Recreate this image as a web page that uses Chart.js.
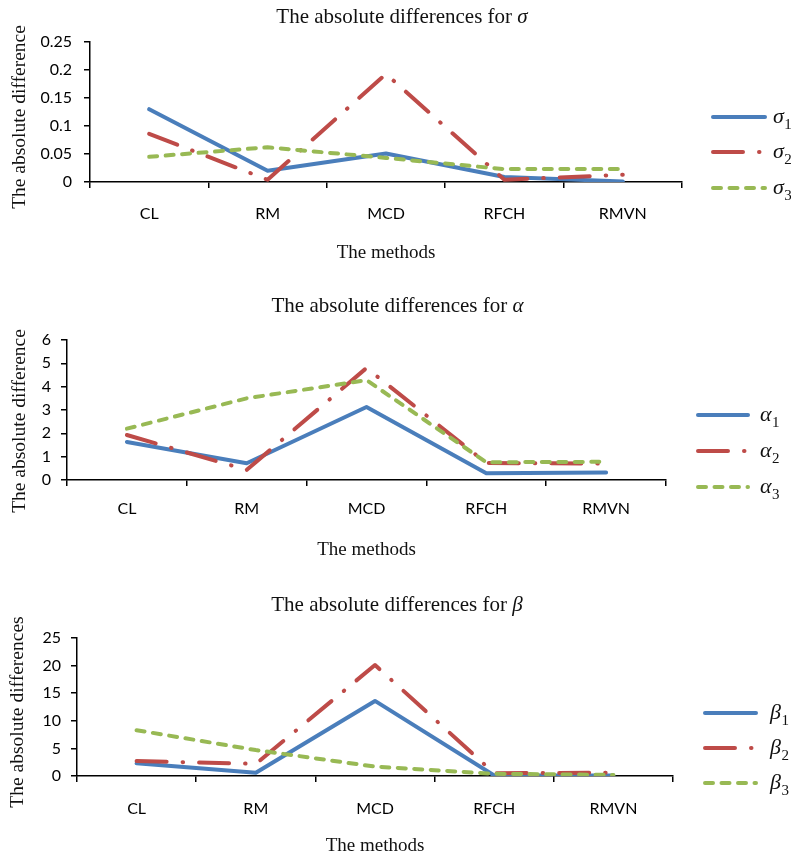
<!DOCTYPE html>
<html><head><meta charset="utf-8">
<script src="https://cdn.jsdelivr.net/npm/chart.js@4.4.1/dist/chart.umd.min.js"></script>
<style>
html,body{margin:0;padding:0;background:#fff;}
#wrap{position:relative;width:791px;height:853px;overflow:hidden;background:#fff;}
#wrap canvas{position:absolute;left:0;}
</style></head><body>
<div id="wrap">
<canvas id="c1" width="791" height="270" style="top:0px;width:791px;height:270px"></canvas>
<canvas id="c2" width="791" height="270" style="top:290px;width:791px;height:270px"></canvas>
<canvas id="c3" width="791" height="268" style="top:585px;width:791px;height:268px"></canvas>
</div>
<script>
// ---------- data ----------
const categories = ['CL', 'RM', 'MCD', 'RFCH', 'RMVN'];

const sigma1 = [0.130, 0.020, 0.051, 0.009, 0.001];
const sigma2 = [0.086, 0.004, 0.193, 0.004, 0.013];
const sigma3 = [0.045, 0.062, 0.043, 0.023, 0.023];
const sigmaTicks = [0, 0.05, 0.1, 0.15, 0.2, 0.25];

const alpha1 = [1.63, 0.72, 3.13, 0.29, 0.32];
const alpha2 = [1.93, 0.43, 4.80, 0.73, 0.70];
const alpha3 = [2.20, 3.50, 4.28, 0.76, 0.78];
const alphaTicks = [0, 1, 2, 3, 4, 5, 6];

const beta1 = [2.3, 0.6, 13.6, 0.1, 0.1];
const beta2 = [2.7, 2.2, 20.1, 0.5, 0.6];
const beta3 = [8.3, 4.7, 1.7, 0.4, 0.2];
const betaTicks = [0, 5, 10, 15, 20, 25];

const xTitle = 'The methods';
const titlePrefix = 'The absolute differences for ';

// ---------- styles ----------
const BLUE = '#4A7EBB', RED = '#BE4B48', GREEN = '#98B954';
const SERIF = '"Liberation Serif", "Times New Roman", serif';
const SANS = 'Lato, "Open Sans", sans-serif';

function seriesStyle(i) {
  const base = {pointRadius: 0, pointHoverRadius: 0, tension: 0, fill: false,
    borderWidth: 4, borderJoinStyle: 'round', borderCapStyle: 'round'};
  if (i === 0) return Object.assign(base, {borderColor: BLUE, order: 3});
  if (i === 1) return Object.assign(base, {borderColor: RED, borderDash: [30, 16, 0.5, 16], order: 2});
  return Object.assign(base, {borderColor: GREEN, borderDash: [8, 8.5], order: 1});
}

const overlay = {
  id: 'overlay',
  afterDraw(chart, args, o) {
    const ctx = chart.ctx;
    ctx.save();
    ctx.fillStyle = '#111';
    ctx.textAlign = 'left';
    ctx.textBaseline = 'alphabetic';
    // title
    const f1 = '21px ' + SERIF, f2 = 'italic 21px ' + SERIF;
    ctx.font = f1; const w1 = ctx.measureText(titlePrefix).width;
    ctx.font = f2; const w2 = ctx.measureText(o.greek).width;
    const tx = o.titleX - (w1 + w2) / 2;
    ctx.font = f1; ctx.fillText(titlePrefix, tx, o.titleY);
    ctx.font = f2; ctx.fillText(o.greek, tx + w1, o.titleY);
    // y title
    ctx.save();
    ctx.translate(o.yTitleX, o.yTitleY);
    ctx.rotate(-Math.PI / 2);
    ctx.font = '19.5px ' + SERIF;
    ctx.textAlign = 'center';
    ctx.fillText(o.yTitle, 0, 0);
    ctx.restore();
    // legend
    chart.data.datasets.forEach((ds, i) => {
      const y = o.legendRows[i];
      ctx.save();
      ctx.strokeStyle = ds.borderColor;
      ctx.lineWidth = ds.borderWidth;
      ctx.lineCap = 'round';
      ctx.setLineDash(ds.borderDash || []);
      ctx.beginPath();
      ctx.moveTo(o.legX1, y); ctx.lineTo(o.legX2, y);
      ctx.stroke();
      ctx.restore();
      ctx.font = 'italic 22px ' + SERIF;
      ctx.fillText(o.greek, o.legTextX, y + 6);
      const gw = ctx.measureText(o.greek).width;
      ctx.font = '15px ' + SERIF;
      ctx.fillText(String(i + 1), o.legTextX + gw + 0.5, y + 12);
    });
    ctx.restore();
  }
};

function makeChart(id, series, labels, yTicks, L) {
  const datasets = series.map((d, i) => Object.assign({label: labels[i], data: d}, seriesStyle(i)));
  return new Chart(document.getElementById(id), {
    type: 'line',
    data: {labels: categories, datasets},
    options: {
      responsive: false, animation: false, devicePixelRatio: 1,
      layout: {padding: {top: L.padTop, right: L.padRight, left: 0, bottom: 0}},
      plugins: {legend: {display: false}, tooltip: {enabled: false}, overlay: L.overlay},
      scales: {
        x: {
          type: 'category', offset: true,
          grid: {display: true, drawOnChartArea: false, drawTicks: true, tickLength: 6, color: '#000', lineWidth: 1.5, offset: true},
          border: {display: true, color: '#000', width: 1.5},
          ticks: {color: '#000', font: {family: SANS, size: 16}, padding: L.xTickPad, maxRotation: 0, autoSkip: false},
          title: {display: true, text: xTitle, color: '#111', font: {family: SERIF, size: 19, lineHeight: 1}, padding: {top: 0, bottom: L.xTitlePad}},
          afterFit(s) { s.height = L.xHeight; }
        },
        y: {
          min: yTicks[0], max: yTicks[yTicks.length - 1],
          afterBuildTicks(s) { s.ticks = yTicks.map(v => ({value: v})); },
          grid: {display: true, drawOnChartArea: false, drawTicks: true, tickLength: 6, color: '#000', lineWidth: 1.5},
          border: {display: true, color: '#000', width: 1.5},
          ticks: {color: '#000', font: {family: SANS, size: 16}, padding: L.yTickPad, callback: v => String(v)},
          afterFit(s) { s.width = L.yWidth; }
        }
      }
    },
    plugins: [overlay]
  });
}

makeChart('c1', [sigma1, sigma2, sigma3], ['σ1', 'σ2', 'σ3'], sigmaTicks, {
  padTop: 42, padRight: 109, yWidth: 90, xHeight: 88, xTickPad: 16, xTitlePad: 7, yTickPad: 12,
  overlay: {greek: 'σ', titleX: 402, titleY: 22.5, yTitle: 'The absolute difference', yTitleX: 25, yTitleY: 117,
    legendRows: [117, 152, 188], legX1: 713, legX2: 765, legTextX: 773}
});
makeChart('c2', [alpha1, alpha2, alpha3], ['α1', 'α2', 'α3'], alphaTicks, {
  padTop: 50, padRight: 125, yWidth: 67, xHeight: 80, xTickPad: 13, xTitlePad: 0.5, yTickPad: 10,
  overlay: {greek: 'α', titleX: 397.5, titleY: 21.5, yTitle: 'The absolute difference', yTitleX: 25, yTitleY: 131,
    legendRows: [125, 161, 197], legX1: 698, legX2: 748, legTextX: 760}
});
makeChart('c3', [beta1, beta2, beta3], ['β1', 'β2', 'β3'], betaTicks, {
  padTop: 53, padRight: 118, yWidth: 77, xHeight: 77, xTickPad: 17, xTitlePad: -3, yTickPad: 10,
  overlay: {greek: 'β', titleX: 397, titleY: 26, yTitle: 'The absolute differences', yTitleX: 23, yTitleY: 127,
    legendRows: [128, 163, 198], legX1: 705, legX2: 756, legTextX: 770}
});
</script>
</body></html>
